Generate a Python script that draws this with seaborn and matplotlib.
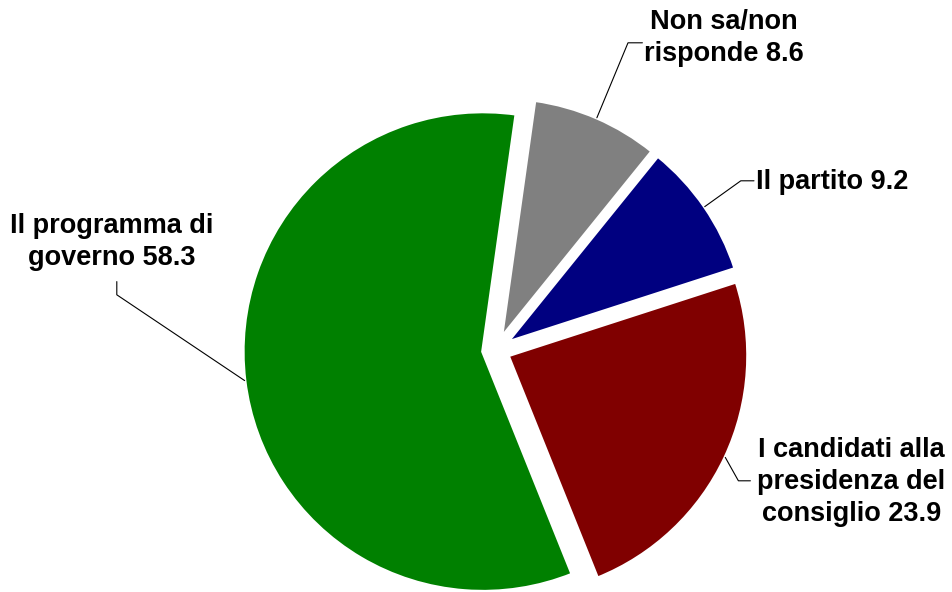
import numpy as np
import matplotlib
matplotlib.use("Agg")
from matplotlib import pyplot as plt
import seaborn as sns

# data (clockwise from the top)
categories = ["Non sa/non\nrisponde", "Il partito",
              "I candidati alla\npresidenza del\nconsiglio",
              "Il programma di\ngoverno"]
values = [8.6, 9.2, 23.9, 58.3]
colors = ["#808080", "#000080", "#800000", "#008000"]

# layout (in pie-radius units, pie centre at 0,0)
text_pos = [(0.95, 1.3), (1.4, 0.7), (1.48, -0.55), (-1.6, 0.45)]
elbow_pos = [(0.55, 1.28), (1.02, 0.705), (1.01, -0.545), (-1.58, 0.23)]
line_end = [(0.61, 1.28), (1.075, 0.705), (1.06, -0.545), (-1.58, 0.285)]
explode = 0.055

sns.set_theme(style="white")
plt.rcParams["font.family"] = ["Liberation Sans", "DejaVu Sans"]

fig = plt.figure(figsize=(9.53, 5.92), dpi=100)
ax = fig.add_axes([0, 0, 1, 1])

wedges, _ = ax.pie(values, colors=colors, startangle=82, counterclock=False,
                   explode=[explode] * len(values), radius=1,
                   wedgeprops={"edgecolor": "white", "linewidth": 2.5})

for w, cat, val, tp, el, le in zip(wedges, categories, values,
                                   text_pos, elbow_pos, line_end):
    mid = np.deg2rad((w.theta1 + w.theta2) / 2)
    cx, cy = w.center
    px, py = cx + np.cos(mid), cy + np.sin(mid)
    ax.plot([px, el[0], le[0]], [py, el[1], le[1]], color="black", lw=0.8)
    ax.text(tp[0], tp[1], f"{cat} {val}", ha="center", va="center",
            fontsize=19.5, fontweight="bold", linespacing=1.32,
            color="black")

ax.set_xlim(-496 / 240, 457 / 240)
ax.set_ylim(-242 / 240, 350 / 240)
ax.set_aspect("equal", adjustable="box")
ax.axis("off")

fig.savefig("out.png", dpi=100)
